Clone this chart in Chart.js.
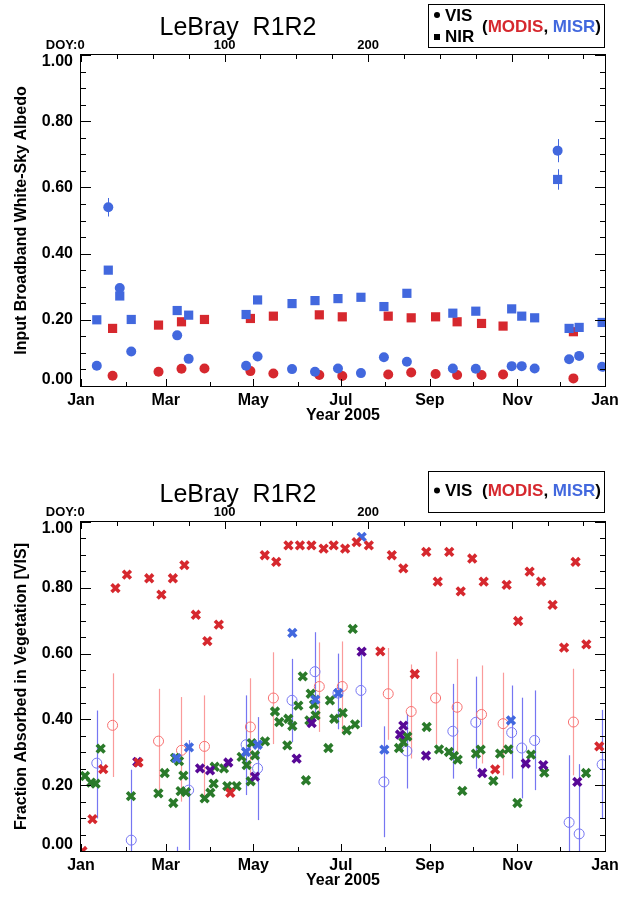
<!DOCTYPE html>
<html>
<head>
<meta charset="utf-8">
<script src="https://cdn.jsdelivr.net/npm/chart.js@4.4.1/dist/chart.umd.min.js"></script>
<style>
  html, body { margin: 0; padding: 0; background: #fff; }
  canvas { position: absolute; left: 0; }
  #albedo { top: 0; }
  #fapar { top: 448px; }
</style>
</head>
<body>
<canvas id="albedo" width="628" height="448"></canvas>
<canvas id="fapar" width="628" height="449"></canvas>
<script>
// axes (x in days since 1 Jan 2005)
const monthTickDays = [0, 31, 59, 90, 120, 151, 181, 212, 243, 273, 304, 334, 365];
const monthLabelDays = [0, 59, 120, 181, 243, 304, 365];
const monthLabels = ['Jan', 'Mar', 'May', 'Jul', 'Sep', 'Nov', 'Jan'];
const doyTickDays = [0, 25, 50, 75, 100, 125, 150, 175, 200, 225, 250, 275, 300, 325, 350];
const doyLabelDays = [0, 100, 200];
const yTickValues = [0, 0.05, 0.1, 0.15, 0.2, 0.25, 0.3, 0.35, 0.4, 0.45, 0.5,
  0.55, 0.6, 0.65, 0.7, 0.75, 0.8, 0.85, 0.9, 0.95, 1.0];
const yLabelValues = [0, 0.2, 0.4, 0.6, 0.8, 1.0];

// top panel: white-sky albedo
const misrDays = [11, 19, 27, 35, 67, 75, 115, 123, 147, 163, 179, 195, 211, 227, 259, 275, 300, 307, 316, 332, 340, 347, 363];
const misrVis = [0.061, 0.540, 0.296, 0.104, 0.153, 0.082, 0.061, 0.089, 0.051, 0.043, 0.053, 0.039, 0.087, 0.073, 0.053, 0.052, 0.060, 0.060, 0.053, 0.711, 0.081, 0.091, 0.058];
const misrVisErr = [0.005, 0.028, 0.012, 0.005, 0.005, 0.005, 0.005, 0.005, 0.005, 0.005, 0.005, 0.005, 0.005, 0.005, 0.005, 0.005, 0.005, 0.005, 0.005, 0.035, 0.005, 0.005, 0.005];
const misrNir = [0.200, 0.350, 0.272, 0.201, 0.228, 0.214, 0.216, 0.260, 0.249, 0.258, 0.264, 0.268, 0.240, 0.280, 0.220, 0.226, 0.233, 0.211, 0.206, 0.624, 0.174, 0.177, 0.192];
const misrNirErr = [0.005, 0.012, 0.010, 0.005, 0.005, 0.005, 0.005, 0.005, 0.005, 0.005, 0.005, 0.005, 0.005, 0.005, 0.005, 0.005, 0.005, 0.005, 0.005, 0.031, 0.005, 0.005, 0.005];
const modisDays = [22, 54, 70, 86, 118, 134, 166, 182, 214, 230, 247, 262, 279, 294, 343];
const modisVis = [0.031, 0.043, 0.052, 0.053, 0.045, 0.038, 0.033, 0.030, 0.035, 0.041, 0.036, 0.033, 0.033, 0.035, 0.023];
const modisNir = [0.174, 0.184, 0.194, 0.201, 0.204, 0.211, 0.215, 0.209, 0.211, 0.206, 0.209, 0.194, 0.189, 0.181, 0.164];

// bottom panel: fraction absorbed in vegetation [VIS]
const modisFapar = [0.382, 0.334, 0.306, 0.318, 0.377, 0.465, 0.500, 0.500, 0.478, 0.424, 0.465, 0.437, 0.415, 0.387, 0.392];
const modisFaparLo = [0.225, 0.175, 0.150, 0.166, 0.225, 0.325, 0.362, 0.358, 0.338, 0.281, 0.324, 0.296, 0.266, 0.230, 0.230];
const modisFaparHi = [0.540, 0.493, 0.468, 0.473, 0.525, 0.604, 0.634, 0.637, 0.617, 0.567, 0.606, 0.584, 0.564, 0.542, 0.554];
const misrFaparDays = [11, 35, 67, 75, 115, 123, 147, 163, 179, 195, 211, 227, 259, 275, 300, 307, 316, 340, 347, 363];
const misrFapar = [0.267, 0.033, -0.080, 0.185, 0.323, 0.251, 0.458, 0.545, 0.480, 0.488, 0.210, 0.304, 0.364, 0.391, 0.360, 0.313, 0.336, 0.087, 0.052, 0.263];
const misrFaparLo = [0.099, -0.050, -0.200, 0.003, 0.170, 0.094, 0.331, 0.418, 0.370, 0.377, 0.042, 0.190, 0.220, 0.250, 0.220, 0.160, 0.185, -0.050, -0.050, 0.099];
const misrFaparHi = [0.427, 0.247, 0.013, 0.337, 0.473, 0.407, 0.584, 0.665, 0.600, 0.604, 0.379, 0.417, 0.508, 0.530, 0.503, 0.466, 0.488, 0.291, 0.264, 0.429];

const redXDays = [1, 8, 15.5, 24, 32, 40, 47.5, 56, 64, 72, 80, 88, 96, 104, 128, 136, 144.5, 152.5, 160.5, 169, 176, 184, 192, 200.5, 208.5, 216.5, 224.5, 232.5, 240.5, 248.5, 256.5, 264.5, 272.5, 280.5, 288.5, 296.5, 304.5, 312.5, 320.5, 328.5, 336.5, 344.5, 352, 361];
const redXVals = [0.000, 0.097, 0.249, 0.799, 0.840, 0.269, 0.829, 0.779, 0.829, 0.869, 0.718, 0.638, 0.688, 0.177, 0.899, 0.879, 0.929, 0.929, 0.929, 0.919, 0.929, 0.919, 0.939, 0.929, 0.607, 0.899, 0.859, 0.538, 0.909, 0.819, 0.909, 0.789, 0.889, 0.819, 0.248, 0.809, 0.699, 0.849, 0.819, 0.748, 0.618, 0.879, 0.628, 0.318];
const blueXDays = [66.6, 75.2, 114.9, 123.1, 147.2, 163.2, 179.2, 195.5, 211.3, 299.5];
const blueXVals = [0.282, 0.315, 0.301, 0.323, 0.663, 0.460, 0.480, 0.955, 0.308, 0.397];
const purpleXDays = [39.2, 82.9, 89.9, 102.6, 121.2, 150.2, 160.7, 195.5, 222.2, 224.5, 240.3, 279.5, 309.8, 322, 345.7];
const purpleXVals = [0.271, 0.251, 0.245, 0.269, 0.226, 0.281, 0.389, 0.606, 0.354, 0.381, 0.290, 0.237, 0.266, 0.261, 0.210];
const greenXDays = [2.8, 7, 10.2, 13.7, 34.8, 53.9, 58.3, 64.3, 65.5, 68.3, 69.4, 71.3, 73.1, 86.1, 90.1, 92.4, 93.1, 99.6, 101.9, 108.4, 111.9, 115.4, 118.2, 118.9, 121.2, 128.2, 135.1, 138.1, 143.7, 144.4, 147.2, 151.4, 154.5, 156.7, 159.1, 160, 162.3, 163.4, 172.3, 173.4, 176.4, 182.3, 185.1, 189.3, 190.9, 221.5, 224.5, 227.3, 240.8, 249.4, 256.3, 259.8, 262.4, 265.6, 275.1, 278.4, 287.2, 291.9, 297.7, 304, 313.5, 322.7, 351.8];
const greenXVals = [0.228, 0.208, 0.205, 0.311, 0.167, 0.175, 0.237, 0.146, 0.283, 0.273, 0.182, 0.229, 0.179, 0.160, 0.177, 0.205, 0.256, 0.251, 0.197, 0.197, 0.286, 0.261, 0.212, 0.328, 0.291, 0.333, 0.424, 0.392, 0.321, 0.402, 0.380, 0.442, 0.531, 0.215, 0.397, 0.478, 0.445, 0.412, 0.313, 0.458, 0.402, 0.420, 0.367, 0.675, 0.385, 0.313, 0.331, 0.348, 0.377, 0.309, 0.301, 0.289, 0.278, 0.183, 0.296, 0.308, 0.213, 0.296, 0.309, 0.146, 0.293, 0.238, 0.237];

const RED = 'rgb(214,40,46)';
const BLUE = 'rgb(66,104,222)';
const LIGHT_RED = 'rgb(247,112,112)';
const LIGHT_RED_BAR = 'rgb(250,155,155)';
const LIGHT_BLUE = 'rgb(118,118,242)';
const GREEN = 'rgb(42,122,42)';
const PURPLE = 'rgb(88,8,150)';
const FONT = '"Liberation Sans", Arial, Helvetica, sans-serif';

const pts = (xs, ys) => xs.map((d, i) => ({ x: d, y: ys[i] }));

const idlAxes = {
  id: 'idlAxes',
  beforeDatasetsDraw(chart) {
    const bars = chart.options.plugins.idlAxes.errorBars || [];
    const { ctx, chartArea: a, scales: { x, y } } = chart;
    ctx.save();
    ctx.beginPath();
    ctx.rect(a.left, a.top, a.right - a.left, a.bottom - a.top);
    ctx.clip();
    bars.forEach(b => {
      ctx.strokeStyle = b.color;
      ctx.lineWidth = b.width;
      b.days.forEach((d, i) => {
        const px = Math.round(x.getPixelForValue(d)) + 0.5;
        ctx.beginPath();
        ctx.moveTo(px, y.getPixelForValue(b.lower[i]));
        ctx.lineTo(px, y.getPixelForValue(b.upper[i]));
        ctx.stroke();
      });
    });
    ctx.restore();
  },
  afterDraw(chart) {
    const o = chart.options.plugins.idlAxes;
    const { ctx, chartArea: a, scales: { x, y } } = chart;
    const line = (x1, y1, x2, y2) => { ctx.beginPath(); ctx.moveTo(x1, y1); ctx.lineTo(x2, y2); ctx.stroke(); };
    ctx.save();
    ctx.strokeStyle = '#000';
    ctx.lineWidth = 1;
    ctx.strokeRect(a.left - 0.5, a.top - 0.5, a.right - a.left + 1, a.bottom - a.top + 1);

    monthTickDays.forEach(d => {
      const px = Math.round(x.getPixelForValue(d)) + 0.5;
      line(px, a.bottom, px, a.bottom - (monthLabelDays.includes(d) ? 7 : 4));
    });
    doyTickDays.forEach(d => {
      const px = Math.round(x.getPixelForValue(d)) + 0.5;
      line(px, a.top, px, a.top + (d % 100 === 0 ? 7 : 4));
    });
    yTickValues.forEach(v => {
      const py = Math.round(y.getPixelForValue(v)) + 0.5;
      const len = yLabelValues.includes(v) ? 10 : 5;
      line(a.left, py, a.left + len, py);
      line(a.right, py, a.right - len, py);
    });

    ctx.fillStyle = '#000';
    ctx.font = 'bold 16px ' + FONT;
    ctx.textAlign = 'right';
    ctx.textBaseline = 'middle';
    yLabelValues.forEach(v => {
      const shift = v === 1 ? 7 : (v === 0 ? -6 : 0);
      ctx.fillText(v.toFixed(2), a.left - 8, y.getPixelForValue(v) + shift);
    });

    ctx.textAlign = 'center';
    monthLabelDays.forEach((d, i) => ctx.fillText(monthLabels[i], x.getPixelForValue(d), a.bottom + 15));
    ctx.fillText('Year 2005', (a.left + a.right) / 2, a.bottom + 30);

    ctx.font = 'bold 13px ' + FONT;
    doyLabelDays.forEach(d => ctx.fillText(String(d), x.getPixelForValue(d), a.top - 10));
    ctx.textAlign = 'right';
    ctx.fillText('DOY:', x.getPixelForValue(0) - ctx.measureText('0').width / 2, a.top - 10);

    // y title
    ctx.save();
    ctx.translate(22, (a.top + a.bottom) / 2);
    ctx.rotate(-Math.PI / 2);
    ctx.textAlign = 'center';
    ctx.font = 'bold 16px ' + FONT;
    ctx.fillText(o.yTitle, 0, 0);
    ctx.restore();

    // title
    ctx.textAlign = 'center';
    ctx.font = '25px ' + FONT;
    ctx.fillText('LeBray  R1R2', 238, a.top - 27);

    // legend box
    const bx = 428, bw = 176, by = a.top - 51, bh = o.legendRows.length === 2 ? 43 : 41;
    ctx.fillStyle = '#fff';
    ctx.fillRect(bx, by, bw, bh);
    ctx.strokeStyle = '#000';
    ctx.strokeRect(bx + 0.5, by + 0.5, bw, bh);
    ctx.fillStyle = '#000';
    ctx.font = 'bold 17px ' + FONT;
    ctx.textAlign = 'left';
    o.legendRows.forEach((r, i) => {
      const ry = by + (o.legendRows.length === 2 ? 12 + i * 21 : bh / 2);
      if (r.symbol === 'circle') {
        ctx.beginPath(); ctx.arc(437, ry - 1, 3, 0, Math.PI * 2); ctx.fill();
      } else {
        ctx.fillRect(434, ry - 3, 6, 6);
      }
      ctx.fillText(r.label, 445, ry);
    });
    const parts = [['(', '#000'], ['MODIS', RED], [', ', '#000'], ['MISR', BLUE], [')', '#000']];
    let tx = 482;
    const ty = o.legendRows.length === 2 ? by + 23 : by + bh / 2;
    parts.forEach(([t, c]) => {
      ctx.fillStyle = c;
      ctx.fillText(t, tx, ty);
      tx += ctx.measureText(t).width;
    });
    ctx.restore();
  }
};

function baseOptions(padBottom, padTop, extra) {
  return {
    responsive: false,
    animation: false,
    devicePixelRatio: 1,
    layout: { padding: { left: 81, right: 23, top: padTop, bottom: padBottom } },
    scales: {
      x: { type: 'linear', min: 0, max: 365, display: false },
      y: { type: 'linear', min: 0, max: 1, display: false }
    },
    plugins: { legend: { display: false }, tooltip: { enabled: false }, idlAxes: extra }
  };
}

const filled = (label, xs, ys, color, style, r) => ({
  label, data: pts(xs, ys), showLine: false, clip: 0,
  pointStyle: style, pointRadius: r, backgroundColor: color, borderColor: color, borderWidth: 0
});
const cross = (label, xs, ys, color) => ({
  label, data: pts(xs, ys), showLine: false, clip: 0,
  pointStyle: 'crossRot', pointRadius: 5.5, borderColor: color, backgroundColor: color, borderWidth: 3.6
});
const ring = (label, xs, ys, color) => ({
  label, data: pts(xs, ys), showLine: false, clip: 0,
  pointStyle: 'circle', pointRadius: 5, borderColor: color, backgroundColor: 'rgba(0,0,0,0)', borderWidth: 1
});

new Chart(document.getElementById('albedo'), {
  type: 'scatter',
  data: {
    datasets: [
      filled('MISR NIR', misrDays, misrNir, BLUE, 'rect', 6.5),
      filled('MISR VIS', misrDays, misrVis, BLUE, 'circle', 5),
      filled('MODIS NIR', modisDays, modisNir, RED, 'rect', 6.5),
      filled('MODIS VIS', modisDays, modisVis, RED, 'circle', 5)
    ]
  },
  options: baseOptions(62, 55, {
    yTitle: 'Input Broadband White-Sky Albedo',
    legendRows: [{ symbol: 'circle', label: 'VIS' }, { symbol: 'square', label: 'NIR' }],
    errorBars: [
      { days: misrDays, lower: misrVis.map((v, i) => v - misrVisErr[i]), upper: misrVis.map((v, i) => v + misrVisErr[i]), color: BLUE, width: 1 },
      { days: misrDays, lower: misrNir.map((v, i) => v - misrNirErr[i]), upper: misrNir.map((v, i) => v + misrNirErr[i]), color: BLUE, width: 1 }
    ]
  }),
  plugins: [idlAxes]
});

new Chart(document.getElementById('fapar'), {
  type: 'scatter',
  data: {
    datasets: [
      cross('MODIS 8-day', redXDays, redXVals, RED),
      cross('MISR X', blueXDays, blueXVals, BLUE),
      cross('purple', purpleXDays, purpleXVals, PURPLE),
      cross('green', greenXDays, greenXVals, GREEN),
      ring('MODIS', modisDays, modisFapar, LIGHT_RED),
      ring('MISR', misrFaparDays, misrFapar, LIGHT_BLUE)
    ]
  },
  options: baseOptions(46, 74, {
    yTitle: 'Fraction Absorbed in Vegetation [VIS]',
    legendRows: [{ symbol: 'circle', label: 'VIS' }],
    errorBars: [
      { days: modisDays, lower: modisFaparLo, upper: modisFaparHi, color: LIGHT_RED_BAR, width: 1.2 },
      { days: misrFaparDays, lower: misrFaparLo, upper: misrFaparHi, color: LIGHT_BLUE, width: 1.2 }
    ]
  }),
  plugins: [idlAxes]
});
</script>
</body>
</html>
